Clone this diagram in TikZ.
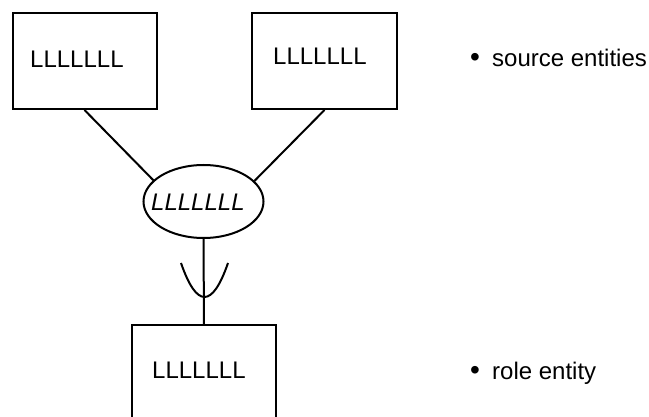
\documentclass[tikz,border=0pt]{standalone}
\usepackage{fontspec}
\setmainfont{Liberation Sans}
\usetikzlibrary{shapes.geometric}
\begin{document}
\begin{tikzpicture}[x=1pt,y=-1pt,
  entity/.style={draw,line width=2pt,rectangle,inner sep=0pt},
  relation/.style={draw,line width=2pt,ellipse,inner sep=0pt,minimum width=120pt,minimum height=73pt},
  link/.style={line width=2pt},
  lbl/.style={inner sep=0pt,anchor=base west,font=\fontsize{24}{28}\selectfont}]
  \useasboundingbox (0,0) rectangle (649,417);
  \clip (0,0) rectangle (649,417);

  % entity boxes (the lower one runs past the bottom edge)
  \node[entity,minimum width=144pt,minimum height=96pt] (src1) at (84.5,61) {};
  \node[entity,minimum width=145pt,minimum height=96pt] (src2) at (324.5,61) {};
  \node[entity,minimum width=144pt,minimum height=110pt] (role) at (204,380) {};

  % relationship ellipse
  \node[relation] (rel) at (203.5,201.5) {};

  % labels
  \node[lbl] (t1) at (30,68) {LLLLLLL};
  \node[lbl] (t2) at (273,65) {LLLLLLL};
  \node[lbl,font=\fontsize{24}{28}\selectfont\itshape] (t3) at (151,211) {LLLLLLL};
  \node[lbl] (t4) at (152,378) {LLLLLLL};

  % connectors
  \draw[link] (src1.south) -- (rel.157);
  \draw[link] (src2.south) -- (rel.22);
  \draw[link] (rel.south) -- (role.north);

  % cup symbol on the lower connector
  \coordinate (cupL) at (181,263);
  \coordinate (cupR) at (228,263);
  \draw[link] (cupL) .. controls (196.7,308.3) and (212.3,308.3) .. (cupR);

  % legend
  \node[lbl] (b1) at (470,67) {\fontsize{28}{28}\selectfont •};
  \node[lbl] (l1) at (492,67) {source entities};
  \node[lbl] (b2) at (470,380) {\fontsize{28}{28}\selectfont •};
  \node[lbl] (l2) at (492,380) {role entity};
\end{tikzpicture}
\end{document}
